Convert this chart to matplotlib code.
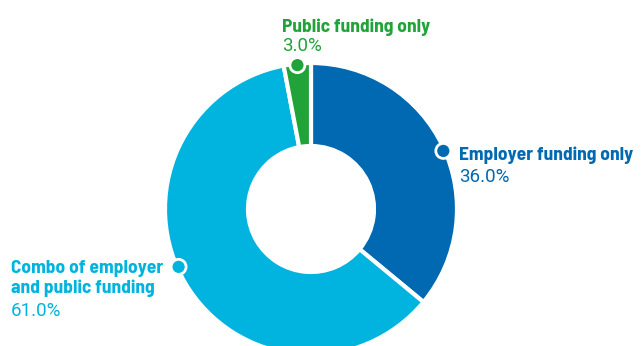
import numpy as np
import matplotlib
matplotlib.use("Agg")
import matplotlib.pyplot as plt
from matplotlib.patches import Circle

categories = ["Employer funding only", "Combo of employer\nand public funding", "Public funding only"]
values = [36.0, 61.0, 3.0]
pct_labels = ["36.0%", "61.0%", "3.0%"]
colors = ["#0069B1", "#00B4DF", "#22A33A"]

BOLD_FAM = ["Barlow Semi Condensed", "Liberation Sans Narrow", "Liberation Sans"]
LIGHT_FAM = ["Roboto", "Liberation Sans"]

W, H = 641, 346
fig = plt.figure(figsize=(W / 100, H / 100), dpi=100)
ax = fig.add_axes([0, 0, 1, 1])

cx, cy = 311, H - 209
R = 146
hole = 63
lw = 3.0
wedges, _ = ax.pie(values, colors=colors, startangle=90, counterclock=False,
                   center=(cx, cy), radius=R, frame=True,
                   wedgeprops=dict(width=R - hole, edgecolor="white", linewidth=lw))

# label dots on outer rim
angle_shift = [-1.5, -7, 0]
for w, c, s in zip(wedges, colors, angle_shift):
    mid = np.deg2rad((w.theta1 + w.theta2) / 2 + s)
    px = cx + (R - 1.5) * np.cos(mid)
    py = cy + (R - 1.5) * np.sin(mid)
    ax.add_patch(Circle((px, py), 7.5, facecolor=c, edgecolor="white", linewidth=2, zorder=5))

def label(x, baselines, cat, pct, color):
    lines = cat.split("\n")
    for ln, yb in zip(lines, baselines[:-1]):
        ax.text(x, H - yb, ln, color=color, fontsize=14, family=BOLD_FAM,
                fontweight="bold", va="baseline", ha="left")
    ax.text(x, H - baselines[-1], pct, color=color, fontsize=13.5, family=LIGHT_FAM,
            fontweight="normal", va="baseline", ha="left")

label(282, [31.5, 51], categories[2], pct_labels[2], colors[2])
label(459, [160.5, 181.5], categories[0], pct_labels[0], colors[0])
label(11, [273.3, 292.7, 316], categories[1], pct_labels[1], colors[1])

ax.set_xlim(0, W)
ax.set_ylim(0, H)
ax.set_aspect("equal")
ax.axis("off")
fig.savefig("out.png", dpi=100)
